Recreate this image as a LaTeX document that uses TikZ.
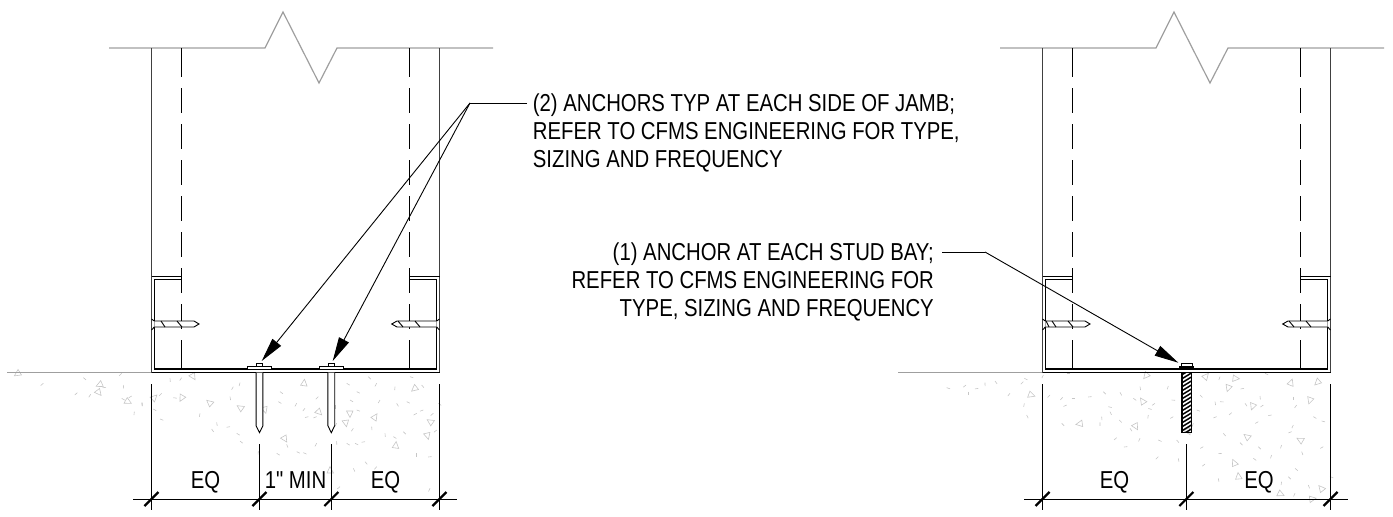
\documentclass[tikz,border=0pt]{standalone}
\usepackage{fontspec}
\newfontfamily\drawfont[FakeStretch=0.83]{Liberation Sans}
\usetikzlibrary{arrows.meta, calc}
\newcommand{\speck}[2]{% short dash of the concrete
  \pgfmathsetmacro{\ang}{mod(#1*7+#2*13,180)}
  \draw [speckline] ({#1/3},{#2/3}) -- ++(\ang:3.5);
  }
\newcommand{\pebble}[2]{% small triangle of the concrete
  \pgfmathsetmacro{\ang}{mod(#1*11+#2*5,360)}
  \draw [speckline, shift={({#1/3},{#2/3})}, rotate=\ang] (0,-3.5) -- (3.5,3) -- (-3,3) -- cycle;
  }

\begin{document}
\begin{tikzpicture}[
  x=1pt, y=-1pt,
  % The wall and floor lines:
  cutline/.style={gray!75, line width=1.2pt},
  wallline/.style={black!75, line width=1.2pt},
  trackline/.style={black, line width=1.3pt},
  thinline/.style={black, line width=0.9pt},
  dimline/.style={black, line width=0.9pt},
  dimtick/.style={black, line width=2.2pt},
  speckline/.style={gray!45, line width=0.6pt},
  leader/.style={black, line width=0.9pt},
  leadertip/.style={leader, -{Triangle[length=24pt, width=11pt]}},
  % Text:
  note/.style={inner sep=0pt, font=\drawfont\fontsize{24.5}{28}\selectfont},
  dimtext/.style={anchor=base, inner sep=0pt, font=\drawfont\fontsize{24.5}{28}\selectfont},
  ]
  \useasboundingbox (0,0) rectangle (1393,517);

  % concrete of the left detail
  \begin{scope}[shift={(120,260)}]
    \foreach \u/\v in {-230/370, -110/353, 5/340, -128/398, -88/403, -42/382, 10/375, 5/415, 35/408, 67/428, 43/455, 100/447, 150/355, 185/353, 125/400, 65/428, 120/477, 160/413, 240/460, 340/380, 360/368, 330/410, 290/487, 275/507, 330/500, 350/520, 360/543, 415/573, 470/580, 500/553, 530/575, 550/578, 590/550, 650/543, 680/550, 705/550, 735/545, 480/395, 475/425, 530/430, 555/445, 565/470, 590/470, 595/410, 645/435, 650/490, 710/450, 680/370, 710/395, 690/420, 745/350, 770/370, 825/380, 870/350, 905/375, 780/420, 830/430, 860/425, 890/460, 910/450, 940/460, 955/430, 700/505, 755/500, 795/520, 850/515, 820/530, 890/580, 935/590, 735/605, 770/620, 700/625, 660/680, 930/685, 950/510}
    {
      \speck{\u}{\v}
    }
    \foreach \u/\v in {-308/342, -62/375, -63/398, 25/425, 103/412, 220/350, 185/415, 268/428, 360/443, 435/450, 552/368, 598/457, 690/462, 678/490, 765/470, 883/387, 930/485, 923/528, 827/555, 495/537, 630/630}
    {
      \pebble{\u}{\v}
    }
  \end{scope}

  % concrete of the right detail
  \begin{scope}[shift={(1020,260)}]
    \foreach \u/\v in {-220/383, -162/375, -105/368, -75/363, -155/395, -125/385, -30/400, 13/355, 10/365, 13/430, 20/465, 70/345, 140/340, 90/405, 128/412, 155/415, 140/435, 215/410, 250/395, 300/397, 340/415, 360/380, 405/430, 265/440, 270/455, 245/470, 240/487, 125/490, 298/480, 330/505, 290/533, 322/560, 360/535, 415/540, 470/540, 415/590, 475/595, 385/445, 385/465, 445/378, 455/420, 460/470, 530/450, 540/405, 520/490, 550/560, 595/580, 555/612, 595/655, 610/520, 590/470, 585/425, 600/425, 600/350, 635/458, 672/385, 720/408, 675/430, 730/435, 755/465, 715/485, 820/410, 830/435, 880/470, 905/483, 820/495, 815/515, 785/555, 660/548, 715/560, 755/585, 700/595, 845/575, 910/560, 825/625, 805/650, 785/665, 825/700, 865/675, 930/650, 735/340}
    {
      \speck{\u}{\v}
    }
    \foreach \u/\v in {378/348, 35/405, 367/423, 178/492, 348/500, 558/348, 648/355, 625/385, 813/367, 892/368, 870/422, 698/440, 680/530, 840/540, 642/608, 655/648, 903/685, 783/702, 878/716, 505/515}
    {
      \pebble{\u}{\v}
    }
  \end{scope}

  % Loop for what both details share
  \foreach \dx in {0, 891}
  {
    \begin{scope}[shift={(\dx,0)}]
      % break line and floor
      \draw [cutline] (109,48) -- (265,48) -- (283,12) -- (319,83) -- (337,48) -- (493,48);
      \draw [cutline] (7,372.7) -- (151.5,372.7);
      % wall faces
      \draw [wallline] (151.5,48) -- (151.5,372.7);
      \draw [wallline] (439.5,48) -- (439.5,372.7);
      \draw [trackline] (151.5,372.7) -- (439.5,372.7);
      % stud lines
      \foreach \sx in {181.3, 409.3}
      {
        \draw [thinline] (\sx,48) -- (\sx,76.7);
        \foreach \sy in {88.3, 124.3, 160.3, 196.3, 232.3, 268.3, 304}
        {
          \draw [thinline] (\sx,\sy) -- (\sx,\sy+24.5);
        }
        \draw [thinline] (\sx,340) -- (\sx,369);
      }
      % track
      \draw [trackline] (181.3,279.3) -- (154.3,279.3) -- (154.3,369) -- (436.7,369) -- (436.7,279.3) -- (409.3,279.3);
      \draw [thinline] (151.5,276) -- (181.3,276);
      \draw [thinline] (409.3,276) -- (439.5,276);
      % left screw
      \draw [thinline, fill=white] (154.3,321) -- (194,321) -- (199,324) -- (194,327) -- (154.3,327);
      \draw [thinline] (151.5,319) -- (154.3,321) (151.5,330) -- (154.3,327);
      \draw [thinline] (161,321) -- (165,327) (177,321) -- (182,327);
      % right screw
      \draw [thinline, fill=white] (436.7,321) -- (397,321) -- (391.7,324) -- (397,327) -- (436.7,327);
      \draw [thinline] (439.5,319) -- (436.7,321) (439.5,330) -- (436.7,327);
      \draw [thinline] (398,321) -- (403,327) (415,321) -- (420,327);
      % extension lines
      \draw [dimline] (151.5,384) -- (151.5,510);
      \draw [dimline] (439.5,384) -- (439.5,510);
      \draw [dimline] (133,499) -- (457,499);
      \draw [dimtick] (144.5,506) -- (158.5,492);
      \draw [dimtick] (432.5,506) -- (446.5,492);
    \end{scope}
  }

  % Loop for the two anchors of the left detail
  \foreach \ax in {259.5, 331.3}
  {
    \draw [thinline, fill=white] (\ax-12.2,369) rectangle (\ax+12.2,366.3);
    \draw [thinline, fill=white] (\ax-3.2,366.3) rectangle (\ax+3.2,363.3);
    \draw [thinline, fill=white] (\ax-3.4,372.7) -- (\ax-3.4,425.7) -- (\ax,432.7) -- (\ax+3.4,425.7) -- (\ax+3.4,372.7);
    \draw [dimline] (\ax,444) -- (\ax,510);
    \draw [dimtick] (\ax-7,506) -- (\ax+7,492);
  }

  % bolt of the right detail
  \draw [thinline, fill=white] (1181.3,366) rectangle (1192,363.3);
  \draw [black, line width=2.4pt] (1179.3,367) -- (1193.7,367);
  \begin{scope}
    \clip (1182,372.7) rectangle (1191,432.7);
    \foreach \sy in {372, 376, ..., 444}
    {
      \draw [black, line width=1.5pt] (1180,\sy) -- (1193,\sy-8);
    }
  \end{scope}
  \draw [thinline] (1182,372.7) rectangle (1191,432.7);
  \draw [black, line width=1.8pt] (1182,372.7) -- (1182,432.7);
  \draw [dimline] (1186.3,444.3) -- (1186.3,510);
  \draw [dimtick] (1179.3,506) -- (1193.3,492);

  % extra thread, screw of the right detail
  \draw [thinline] (1046,321) -- (1049,327);

  % dimension texts
  \node (eqA) [dimtext] at (205.5,488) {EQ};
  \node (minA) [dimtext] at (295.5,488) {1" MIN};
  \node (eqB) [dimtext] at (385.5,488) {EQ};
  \node (eqC) [dimtext] at (1114.5,488) {EQ};
  \node (eqD) [dimtext] at (1259,488) {EQ};

  % notes and leaders
  \node (noteA) [note, align=left, anchor=north west] at (532.7,93.5) {(2) ANCHORS TYP AT EACH SIDE OF JAMB;\\REFER TO CFMS ENGINEERING FOR TYPE,\\SIZING AND FREQUENCY};
  \node (noteB) [note, align=right, anchor=north east] at (934,242.5) {(1) ANCHOR AT EACH STUD BAY;\\REFER TO CFMS ENGINEERING FOR\\TYPE, SIZING AND FREQUENCY};
  \coordinate (kneeA) at (470,103);
  \coordinate (tipA) at (261.7,361);
  \coordinate (tipB) at (332.7,361);
  \coordinate (kneeB) at (985,252);
  \coordinate (tipC) at (1178.3,362.7);
  \draw [leader] ($(noteA.north west)+(-5.5,9.5)$) -- (kneeA);
  \draw [leadertip] (kneeA) -- (tipA);
  \draw [leadertip] (kneeA) -- (tipB);
  \draw [leader] ($(noteB.north east)+(8,9.5)$) -- (kneeB);
  \draw [leadertip] (kneeB) -- (tipC);
\end{tikzpicture}
\end{document}
